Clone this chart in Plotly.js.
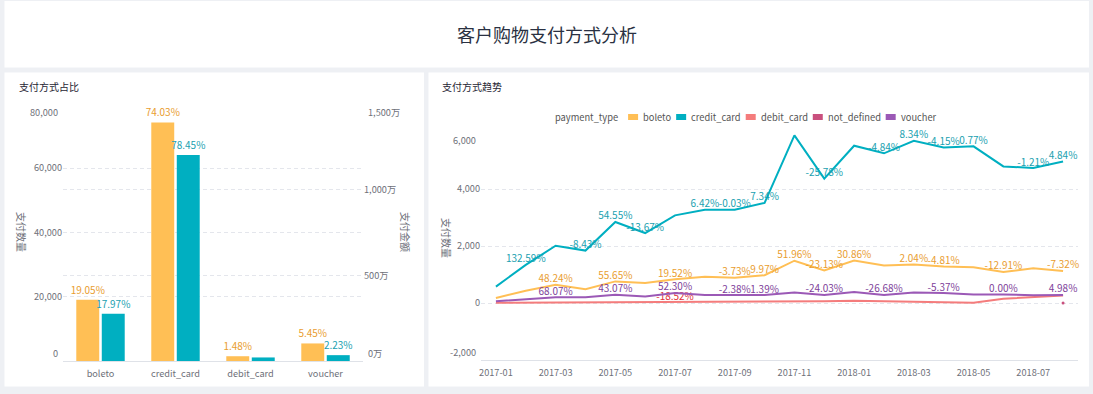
<!DOCTYPE html>
<html>
<head>
<meta charset="utf-8">
<script src="https://cdn.plot.ly/plotly-3.0.1.min.js"></script>
<style>
html,body{margin:0;padding:0;background:#eef0f4;}
#chart{width:1093px;height:394px;}
</style>
</head>
<body>
<div id="chart"></div>
<script>
// ---------- data ----------
const categories = ['boleto', 'credit_card', 'debit_card', 'voucher'];
const payCount = [19105, 74245, 1484, 5466];
const payAmount = [2753000, 12018500, 207000, 341600];
const countPctLabels = ['19.05%', '74.03%', '1.48%', '5.45%'];
const amountPctLabels = ['17.97%', '78.45%', '', '2.23%'];

const months = ['2017-01','2017-02','2017-03','2017-04','2017-05','2017-06','2017-07','2017-08','2017-09','2017-10',
                '2017-11','2017-12','2018-01','2018-02','2018-03','2018-04','2018-05','2018-06','2018-07','2018-08'];
const monthTicks = ['2017-01','2017-03','2017-05','2017-07','2017-09','2017-11','2018-01','2018-03','2018-05','2018-07'];

const seriesNames = ['boleto', 'credit_card', 'debit_card', 'not_defined', 'voucher'];
const boleto     = [175, 433, 642, 487, 758, 699, 835, 923, 888, 977, 1484, 1141, 1493, 1320, 1347, 1282, 1250, 1089, 1215, 1126];
const creditCard = [575, 1337, 2010, 1840, 2844, 2455, 3074, 3271, 3270, 3510, 5881, 4365, 5519, 5252, 5690, 5454, 5496, 4793, 4735, 4964];
const debitCard  = [9, 13, 31, 27, 30, 27, 22, 26, 30, 49, 58, 61, 80, 65, 60, 40, 5, 150, 221, 267];
const notDefinedMonths = ['2018-08'];
const notDefined = [3];
const voucher    = [62, 122, 205, 200, 286, 232, 353, 280, 273, 277, 372, 283, 386, 283, 371, 351, 302, 302, 268, 281];

const boletoLabels = ['','','48.24%','','55.65%','','19.52%','','-3.73%','9.97%','51.96%','-23.13%','30.86%','','2.04%','-4.81%','','-12.91%','','-7.32%'];
const creditLabels = ['','132.59%','','-8.43%','54.55%','-13.67%','','6.42%','-0.03%','7.34%','','-25.78%','','-4.84%','8.34%','-4.15%','0.77%','','-1.21%','4.84%'];
const debitLabels  = ['','','','','','','-18.52%','','','','','','','','','','','','',''];
const voucherLabels= ['','','68.07%','','43.07%','','52.30%','','-2.38%','1.39%','','-24.03%','','-26.68%','','-5.37%','','0.00%','','4.98%'];

const countTicks = [0, 20000, 40000, 60000, 80000];
const amountTicks = [0, 5000000, 10000000, 15000000];
const trendTicks = [-2000, 0, 2000, 4000, 6000];

// ---------- styling ----------
const W = 1093, H = 394;
const FONT = '"Noto Sans CJK SC", "Microsoft YaHei", sans-serif';
const TICK = 9.2, DATA = 10, LEG = 9.3;
const px = x => x / W;
const py = y => 1 - y / H;
const colors = {boleto:'#ffbf55', credit_card:'#00afc1', debit_card:'#f47c7c', not_defined:'#c9507e', voucher:'#9b59b6'};
const labelColors = {boleto:'#e99d2f', credit_card:'#1a9fb0', debit_card:'#e0313a', voucher:'#7e3f9a'};
const gridColor = '#e4e6ec';
const tickColor = '#6e7079';
const fmt = v => v.toLocaleString('en-US');
const wan = v => fmt(v / 10000) + '万';

const traces = [
  {type:'bar', x:categories, y:payCount, name:'支付数量', xaxis:'x', yaxis:'y', offsetgroup:'1',
   marker:{color:colors.boleto}, text:countPctLabels, textposition:'outside', constraintext:'none', cliponaxis:false,
   textfont:{size:DATA, color:labelColors.boleto, family:FONT}, hoverinfo:'skip'},
  {type:'bar', x:categories, y:payAmount, name:'支付金额', xaxis:'x', yaxis:'y2', offsetgroup:'2',
   marker:{color:colors.credit_card}, text:amountPctLabels, textposition:'outside', constraintext:'none', cliponaxis:false,
   textfont:{size:DATA, color:labelColors.credit_card, family:FONT}, hoverinfo:'skip'}
];

const lineSeries = [
  {name:'boleto', y:boleto, text:boletoLabels},
  {name:'credit_card', y:creditCard, text:creditLabels},
  {name:'debit_card', y:debitCard, text:debitLabels},
  {name:'voucher', y:voucher, text:voucherLabels}
];
lineSeries.forEach(s => {
  traces.push({type:'scatter', mode:'lines+text', x:months, y:s.y, name:s.name, xaxis:'x2', yaxis:'y3',
    line:{color:colors[s.name], width:2}, text:s.text, textposition:'top center', cliponaxis:false,
    textfont:{size:DATA, color:labelColors[s.name], family:FONT}, hoverinfo:'skip'});
});
traces.push({type:'scatter', mode:'markers', x:notDefinedMonths, y:notDefined, name:'not_defined', xaxis:'x2', yaxis:'y3',
  marker:{color:colors.not_defined, size:3}, hoverinfo:'skip'});

// ---------- panels / legend ----------
const shapes = [];
const panel = (x0,y0,x1,y1) => shapes.push({type:'rect', xref:'paper', yref:'paper', layer:'below',
  x0:px(x0), x1:px(x1), y0:py(y1), y1:py(y0), fillcolor:'#ffffff', line:{width:0}});
panel(4.5, 1, 1089, 67.5);
panel(4.5, 72.5, 424, 386.5);
panel(428.5, 72.5, 1089, 386.5);

const annotations = [];
const ann = (text, x, y, opt) => annotations.push(Object.assign({text, xref:'paper', yref:'paper', x:px(x), y:py(y),
  showarrow:false, xanchor:'left', yanchor:'middle', font:{family:FONT, size:10, color:'#333'}}, opt||{}));

ann('客户购物支付方式分析', 547, 34, {xanchor:'center', font:{family:FONT, size:18, color:'#2a3142'}});
ann('支付方式占比', 17, 86, {font:{family:FONT, size:10, color:'#1f2533'}});
ann('支付方式趋势', 440, 86, {font:{family:FONT, size:10, color:'#1f2533'}});
ann('支付数量', 22, 232, {xanchor:'center', textangle:90, font:{family:FONT, size:10, color:tickColor}});
ann('支付金额', 406, 232, {xanchor:'center', textangle:90, font:{family:FONT, size:10, color:tickColor}});
ann('支付数量', 447, 238, {xanchor:'center', textangle:90, font:{family:FONT, size:10, color:tickColor}});

// end tick labels sit inside the axis span (min moved up, max moved down)
const edgeLabel = (text, x, yref, yval, shift, anchor) => annotations.push({text, xref:'paper', x:px(x), yref, y:yval,
  yshift:shift, showarrow:false, xanchor:anchor, yanchor:'middle', font:{family:FONT, size:TICK, color:tickColor}});
edgeLabel(fmt(countTicks[0]), 60, 'y', countTicks[0], 8, 'right');
edgeLabel(fmt(countTicks[countTicks.length-1]), 60, 'y', countTicks[countTicks.length-1], -8, 'right');
edgeLabel(wan(amountTicks[0]), 366, 'y2', amountTicks[0], 8, 'left');
edgeLabel(wan(amountTicks[amountTicks.length-1]), 366, 'y2', amountTicks[amountTicks.length-1], -8, 'left');
edgeLabel(fmt(trendTicks[0]), 478, 'y3', trendTicks[0], 8, 'right');
edgeLabel(fmt(trendTicks[trendTicks.length-1]), 478, 'y3', trendTicks[trendTicks.length-1], -8, 'right');
const inner = (arr, f) => arr.map((v, i) => (i === 0 || i === arr.length - 1) ? '' : f(v));

// legend built from series names
const cv = document.createElement('canvas').getContext('2d');
const measure = (t, size) => { cv.font = size + 'px ' + FONT; return cv.measureText(t).width; };
const LEG_Y = 117;
let lx = 553;
ann('payment_type', lx, LEG_Y, {font:{family:FONT, size:LEG, color:'#555'}});
lx += measure('payment_type', LEG) + 12;
seriesNames.forEach(n => {
  shapes.push({type:'rect', xref:'paper', yref:'paper', x0:px(lx), x1:px(lx+10), y0:py(LEG_Y+3), y1:py(LEG_Y-3),
    fillcolor:colors[n], line:{width:0}});
  lx += 13;
  ann(n, lx, LEG_Y, {font:{family:FONT, size:LEG, color:'#555'}});
  lx += measure(n, LEG) + 7;
});

const layout = {
  width:W, height:H, margin:{l:0, r:0, t:0, b:0},
  paper_bgcolor:'#eef0f4', plot_bgcolor:'rgba(0,0,0,0)',
  showlegend:false, barmode:'group', bargap:0.32, bargroupgap:0.1,
  font:{family:FONT, size:TICK, color:tickColor},
  xaxis:{domain:[px(63), px(363)], anchor:'y', type:'category', showline:true, linecolor:'#dfe2e8', linewidth:1,
    showgrid:false, ticks:'', tickfont:{size:TICK, color:tickColor}, fixedrange:true, ticklabelstandoff:4},
  yaxis:{domain:[py(361), py(104)], range:[0, 80000], tickvals:countTicks, ticktext:inner(countTicks, fmt),
    showgrid:true, gridcolor:gridColor, griddash:'4px,3px', zeroline:false, showline:false, ticks:'',
    tickfont:{size:TICK, color:tickColor}, fixedrange:true},
  yaxis2:{overlaying:'y', side:'right', anchor:'x', range:[0, 15000000], tickvals:amountTicks,
    ticktext:inner(amountTicks, wan), showgrid:true, gridcolor:gridColor, griddash:'4px,3px',
    zeroline:false, showline:false, ticks:'', tickfont:{size:TICK, color:tickColor}, fixedrange:true},
  xaxis2:{domain:[px(481), px(1078)], anchor:'y3', type:'category', range:[-0.5, months.length - 0.5],
    tickvals:monthTicks, ticktext:monthTicks, showline:true, linecolor:'#dfe2e8', linewidth:1, showgrid:false,
    ticks:'', tickfont:{size:TICK, color:tickColor}, fixedrange:true, ticklabelstandoff:4},
  yaxis3:{domain:[py(360), py(132)], anchor:'x2', range:[-2000, 6000], tickvals:trendTicks, ticktext:inner(trendTicks, fmt),
    showgrid:true, gridcolor:gridColor, griddash:'4px,3px', zeroline:false, showline:false, ticks:'',
    tickfont:{size:TICK, color:tickColor}, fixedrange:true},
  shapes, annotations
};

Plotly.newPlot('chart', traces, layout, {staticPlot:true, displayModeBar:false});
</script>
</body>
</html>
